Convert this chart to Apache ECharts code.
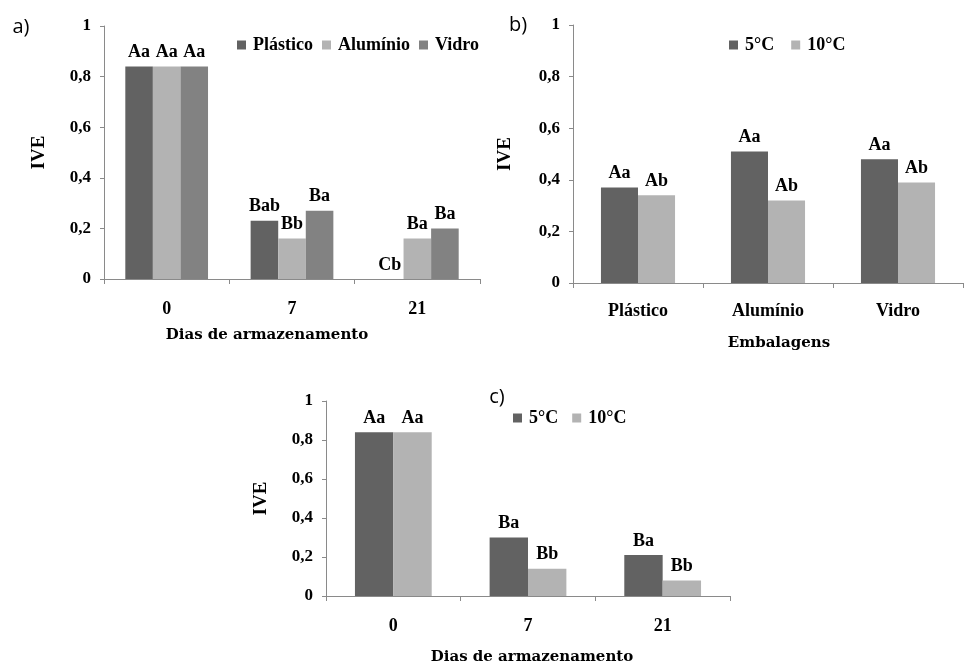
<!DOCTYPE html>
<html><head><meta charset="utf-8">
<script src="https://cdn.jsdelivr.net/npm/echarts@6/dist/echarts.min.js"></script>
<style>html,body{margin:0;padding:0;background:#fff}#c{width:964px;height:666px}</style>
</head><body><div id="c"></div>
<script>
// Categories
const daysCategories = ['0', '7', '21'];
const packCategories = ['Plástico', 'Alumínio', 'Vidro'];
const packNames = ['Plástico', 'Alumínio', 'Vidro'];
const tempNames = ['5°C', '10°C'];

// Panel a) IVE by storage day and packaging
const a_plastico = [0.84, 0.23, 0.00];
const a_aluminio = [0.84, 0.16, 0.16];
const a_vidro = [0.84, 0.27, 0.20];
const a_plastico_lbl = ['Aa', 'Bab', 'Cb'];
const a_aluminio_lbl = ['Aa', 'Bb', 'Ba'];
const a_vidro_lbl = ['Aa', 'Ba', 'Ba'];

// Panel b) IVE by packaging and temperature
const b_5 = [0.37, 0.51, 0.48];
const b_10 = [0.34, 0.32, 0.39];
const b_5_lbl = ['Aa', 'Aa', 'Aa'];
const b_10_lbl = ['Ab', 'Ab', 'Ab'];

// Panel c) IVE by storage day and temperature
const c_5 = [0.84, 0.30, 0.21];
const c_10 = [0.84, 0.14, 0.08];
const c_5_lbl = ['Aa', 'Ba', 'Ba'];
const c_10_lbl = ['Aa', 'Bb', 'Bb'];

const SERIF = '"Liberation Serif", "Times New Roman", serif';
const WIDE = '"DejaVu Serif", serif';
const SANS = '"Open Sans", "Noto Sans", sans-serif';
const DARK = '#626262', LIGHT = '#b3b3b3', MID = '#828282';
const AXIS = '#8a8a8a';

const chart = echarts.init(document.getElementById('c'), null, {renderer: 'canvas'});

function yAxis(gi, gap) {
  return {
    gridIndex: gi, type: 'value', min: 0, max: 1, interval: 0.2,
    name: 'IVE', nameLocation: 'middle', nameRotate: 90, nameGap: gap,
    nameTextStyle: {fontFamily: SERIF, fontWeight: 'bold', fontSize: 19, color: '#000'},
    axisLine: {show: true, lineStyle: {color: AXIS, width: 1}},
    axisTick: {show: true, length: 4, lineStyle: {color: AXIS}},
    splitLine: {show: false},
    axisLabel: {
      margin: 13, fontFamily: SERIF, fontWeight: 'bold', fontSize: 17, color: '#000',
      formatter: v => String(Math.round(v * 10) / 10).replace('.', ',')
    }
  };
}
function xAxis(gi, cats, margin) {
  return {
    gridIndex: gi, type: 'category', data: cats,
    axisLine: {show: true, lineStyle: {color: AXIS, width: 1}},
    axisTick: {show: true, length: 5, lineStyle: {color: AXIS}},
    axisLabel: {margin: margin, fontFamily: SERIF, fontWeight: 'bold', fontSize: 18, color: '#000'}
  };
}
function bar(name, gi, data, labels, color, gapPct) {
  return {
    name: name, type: 'bar', xAxisIndex: gi, yAxisIndex: gi, data: data,
    barGap: '0%', barCategoryGap: gapPct,
    itemStyle: {color: color},
    label: {
      show: true, position: 'top', distance: 5,
      fontFamily: SERIF, fontWeight: 'bold', fontSize: 18, color: '#000',
      formatter: p => labels[p.dataIndex]
    }
  };
}
function legend(names, left, top, gap) {
  return {
    data: names, left: left, top: top, orient: 'horizontal',
    icon: 'rect', itemWidth: 9, itemHeight: 9, itemGap: gap,
    selectedMode: false, padding: 0,
    textStyle: {fontFamily: SERIF, fontWeight: 'bold', fontSize: 18, color: '#000', padding: [0, 0, 0, 2]}
  };
}
function txt(text, x, y, font) {
  return {type: 'text', x: x, y: y, style: {text: text, font: font, fill: '#000', align: 'center', verticalAlign: 'middle', textAlign: 'center', textVerticalAlign: 'middle'}};
}

chart.setOption({
  animation: false,
  backgroundColor: '#fff',
  grid: [
    {left: 104, top: 26, width: 376, height: 253},
    {left: 573, top: 25, width: 390, height: 258},
    {left: 326, top: 401, width: 404, height: 195}
  ],
  xAxis: [xAxis(0, daysCategories, 21), xAxis(1, packCategories, 19), xAxis(2, daysCategories, 21)],
  yAxis: [yAxis(0, 55), yAxis(1, 58), yAxis(2, 55)],
  legend: [
    legend(packNames, 237, 36, 9),
    legend(tempNames, 729, 36, 17),
    legend(tempNames, 513, 409, 14)
  ],
  series: [
    bar(packNames[0], 0, a_plastico, a_plastico_lbl, DARK, '34%'),
    bar(packNames[1], 0, a_aluminio, a_aluminio_lbl, LIGHT, '34%'),
    bar(packNames[2], 0, a_vidro, a_vidro_lbl, MID, '34%'),
    bar(tempNames[0], 1, b_5, b_5_lbl, DARK, '43%'),
    bar(tempNames[1], 1, b_10, b_10_lbl, LIGHT, '43%'),
    bar(tempNames[0], 2, c_5, c_5_lbl, DARK, '43%'),
    bar(tempNames[1], 2, c_10, c_10_lbl, LIGHT, '43%')
  ],
  graphic: [
    txt('a)', 21, 27, '20px ' + SANS),
    txt('b)', 518, 25, '20px ' + SANS),
    txt('c)', 497, 397, '20px ' + SANS),
    txt('Dias de armazenamento', 267, 335, 'bold 15px ' + WIDE),
    txt('Embalagens', 779, 343, 'bold 15px ' + WIDE),
    txt('Dias de armazenamento', 532, 657, 'bold 15px ' + WIDE)
  ]
});
</script>
</body></html>
